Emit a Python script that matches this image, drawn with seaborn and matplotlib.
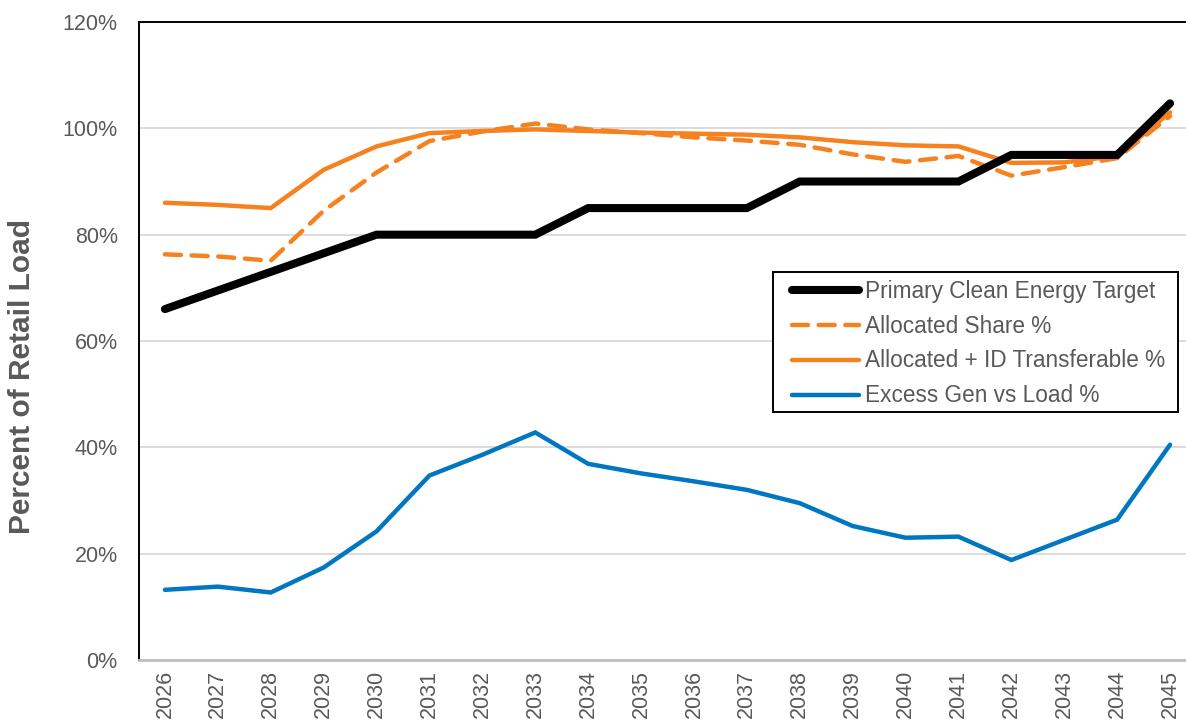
import matplotlib
matplotlib.use("Agg")
import matplotlib.pyplot as plt
from matplotlib.ticker import FuncFormatter, MultipleLocator
from matplotlib.patches import Rectangle
import seaborn as sns
import pandas as pd

years = list(range(2026, 2046))

primary_target = [66, 69.5, 73, 76.5, 80, 80, 80, 80, 85, 85,
                  85, 85, 90, 90, 90, 90, 95, 95, 95, 104.7]
allocated_share = [76.3, 75.9, 75.1, 84.5, 91.7, 97.6, 99.4, 100.9, 99.8, 99.1,
                   98.3, 97.7, 96.9, 95.1, 93.7, 94.8, 91.1, 92.7, 94.4, 102.3]
allocated_id = [86.0, 85.6, 85.0, 92.2, 96.6, 99.1, 99.5, 99.8, 99.5, 99.2,
                99.0, 98.8, 98.3, 97.4, 96.8, 96.6, 93.5, 93.6, 94.8, 103.0]
excess_gen = [13.2, 13.8, 12.7, 17.4, 24.2, 34.7, 38.6, 42.8, 36.9, 35.1,
              33.6, 32.0, 29.5, 25.2, 23.0, 23.2, 18.8, 22.6, 26.4, 40.5]

series_names = ["Primary Clean Energy Target", "Allocated Share %",
                "Allocated + ID Transferable %", "Excess Gen vs Load %"]

df = pd.DataFrame({
    "Year": years * 4,
    "Value": primary_target + allocated_share + allocated_id + excess_gen,
    "Series": sum([[n] * len(years) for n in series_names], []),
})

sns.set_theme(style="white")
plt.rcParams["font.family"] = ["Liberation Sans", "DejaVu Sans"]

TEXT = "#595959"
ORANGE = "#F5821F"
BLUE = "#0077C0"
W, H = 1186, 723

fig = plt.figure(figsize=(W / 100, H / 100), dpi=100)
ax = fig.add_axes([138.5 / W, 63 / H, (1196.5 - 138.5) / W, 638 / H])

styles = {
    "Primary Clean Energy Target": dict(color="black", lw=5.8, ls="-"),
    "Allocated Share %": dict(color=ORANGE, lw=3.2, ls=(0, (3.6, 2.4))),
    "Allocated + ID Transferable %": dict(color=ORANGE, lw=3.2, ls="-"),
    "Excess Gen vs Load %": dict(color=BLUE, lw=3.2, ls="-"),
}

draw_order = ["Excess Gen vs Load %", "Allocated + ID Transferable %",
              "Allocated Share %", "Primary Clean Energy Target"]
for name in draw_order:
    st = styles[name]
    sub = df[df["Series"] == name]
    sns.lineplot(data=sub, x="Year", y="Value", ax=ax, color=st["color"],
                 linewidth=st["lw"], linestyle=st["ls"], label=name,
                 solid_capstyle="round", dash_capstyle="round",
                 solid_joinstyle="miter")
handles = {line.get_label(): line for line in ax.get_lines()}

ax.set_xlim(2025.5, 2045.5)
ax.set_ylim(0, 120)
ax.yaxis.set_major_locator(MultipleLocator(20))
ax.yaxis.set_major_formatter(FuncFormatter(lambda v, p: f"{v:.0f}%"))
ax.set_xticks(years)
ax.set_xticklabels([str(y) for y in years], rotation=90)
ax.tick_params(axis="both", colors=TEXT, labelsize=15.5, length=0)
ax.tick_params(axis="x", pad=7)
ax.tick_params(axis="y", pad=15)

ax.grid(axis="y", color="#d9d9d9", linewidth=1.3)
ax.set_axisbelow(True)
for side in ["left", "top"]:
    ax.spines[side].set_color("black")
    ax.spines[side].set_linewidth(1.4)
ax.spines["right"].set_visible(False)
ax.spines["bottom"].set_color("#bfbfbf")
ax.spines["bottom"].set_linewidth(2)

ax.set_xlabel("")
ax.set_ylabel("Percent of Retail Load", fontsize=21.5, fontweight="bold",
              color=TEXT)
ax.yaxis.set_label_coords(-0.097, 0.445)

# legend frame drawn as a separate box so the inner padding can differ per side
frame = Rectangle((773 / W, 1 - 412 / H), (1178 - 773) / W, (412 - 272) / H,
                  transform=fig.transFigure, facecolor="white",
                  edgecolor="black", linewidth=1.4, zorder=4, clip_on=False)
ax.add_patch(frame)

leg = ax.legend([handles[n] for n in series_names], series_names,
                loc="center left", bbox_to_anchor=(792 / W, 1 - 343.5 / H),
                bbox_transform=fig.transFigure,
                borderaxespad=0, borderpad=0, frameon=False,
                fontsize=16.3, handlelength=2.95,
                handletextpad=0.28, labelspacing=0.53,
                labelcolor=TEXT)
leg.set_zorder(5)

fig.savefig("out.png", dpi=100, facecolor="white")
